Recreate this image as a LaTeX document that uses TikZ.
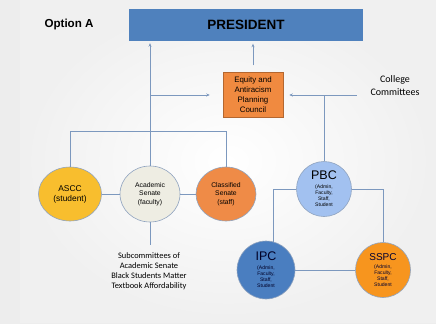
\documentclass[tikz,border=0pt]{standalone}
\usepackage{fontspec}
\setmainfont{Liberation Sans}
\newfontfamily\calib{Carlito}
\usetikzlibrary{shapes.geometric,arrows.meta}
\definecolor{presblue}{HTML}{4F81BD}
\definecolor{eqorange}{HTML}{F08A40}
\definecolor{asccgold}{HTML}{F8BE2E}
\definecolor{asenbeige}{HTML}{EEEDE3}
\definecolor{csenorange}{HTML}{EF8B47}
\definecolor{pbcblue}{HTML}{A2C1F0}
\definecolor{ipcblue}{HTML}{4A7EC0}
\definecolor{sspcorange}{HTML}{F7951E}
\definecolor{linkblue}{HTML}{7C98BE}
\definecolor{rimgray}{HTML}{8FA3BF}
\newcommand{\bigtag}[2]{{\fontsize{#1}{#1}\selectfont #2}}
\tikzset{
  link/.style={draw=linkblue, line width=0.7pt},
  arrowlink/.style={link, -{Stealth[length=3.5pt,width=3pt]}},
  bubble/.style={ellipse, draw=rimgray, line width=0.6pt, inner sep=0pt, align=center},
  disc/.style={circle, draw=rimgray, line width=0.6pt, inner sep=0pt, align=center,
               font=\fontsize{5.1}{6.2}\selectfont},
}
\begin{document}
\begin{tikzpicture}[x=1pt,y=-1pt]
  % page and slide background
  \fill[gray!14] (0,0) rectangle (436,324);
  \shade[inner color=white, outer color=gray!12] (20,0) rectangle (436,322);
  \useasboundingbox (0,0) rectangle (436,324);

  % title and top box
  \node[font=\bfseries\fontsize{11.6}{13}\selectfont, anchor=west] (opt) at (41,25) {Option A};
  \node[fill=presblue, minimum width=234, minimum height=32, inner sep=0pt,
        font=\bfseries\fontsize{13.5}{16}\selectfont] (pres) at (246,25) {PRESIDENT};

  % planning council
  \node[fill=eqorange, draw=eqorange!75!black, line width=0.5pt, minimum width=60, minimum height=45,
        inner sep=0pt, align=center, font=\fontsize{7.9}{10}\selectfont] (eq) at (253,95)
        {Equity and\\Antiracism\\Planning\\Council};

  \node[align=center, font=\calib\fontsize{10}{13}\selectfont] (cc) at (395,86) {College\\Committees};

  % senates
  \node[bubble, fill=asccgold, minimum width=63, minimum height=54,
        font=\fontsize{8.4}{10}\selectfont] (ascc) at (70,194) {ASCC\\(student)};
  \node[bubble, fill=asenbeige, minimum width=60, minimum height=56,
        font=\fontsize{6.8}{8.5}\selectfont] (asen) at (150,194) {Academic\\Senate\\(faculty)};
  \node[bubble, fill=csenorange, minimum width=60, minimum height=54,
        font=\fontsize{6.8}{8.5}\selectfont] (csen) at (226,194) {Classified\\Senate\\(staff)};

  % committees
  \node[disc, fill=pbcblue, minimum size=55] (pbc) at (324,189)
        {\bigtag{12.5}{PBC}\\[2pt](Admin,\\Faculty,\\Staff,\\Student};
  \node[disc, fill=ipcblue, minimum size=58, text=black!85!blue] (ipc) at (266,270)
        {\bigtag{12.5}{IPC}\\[2pt](Admin,\\Faculty,\\Staff,\\Student};
  \node[disc, fill=sspcorange, minimum size=55, text=black!80!blue] (sspc) at (383,270)
        {\bigtag{10}{SSPC}\\[1.5pt](Admin,\\Faculty,\\Staff,\\Student};

  \node[anchor=north, align=center, font=\calib\fontsize{8.4}{10}\selectfont] (sub) at (149,249)
        {Subcommittees of\\Academic Senate\\Black Students Matter\\Textbook Affordability};

  % connectors
  \draw[link] (ascc.north) -- ++(0,-35) -| (csen.north);
  \draw[arrowlink, shorten >=2pt] (asen.north) -- (asen.north |- pres.south);
  \draw[arrowlink, shorten >=13pt] (asen.north |- eq.west) -- (eq.west);
  \draw[arrowlink, shorten <=7pt, shorten >=2.5pt] (eq.north) -- (pres.south -| eq.north);
  \draw[arrowlink, shorten <=10pt, shorten >=6pt] (cc.west |- eq.east) -- (eq.east);
  \draw[link] (pbc.north |- eq.east) -- (pbc.north);
  \draw[link] (ascc.east) -- (asen.west);
  \draw[link] (asen.east) -- (csen.west);
  \draw[link] (asen.south) -- ++(0,23);
  \draw[link] (pbc.west) -| (ipc.76);
  \draw[link] (pbc.east) -| (sspc.north);
  \draw[link] (ipc.east) -- (sspc.west);
\end{tikzpicture}
\end{document}
